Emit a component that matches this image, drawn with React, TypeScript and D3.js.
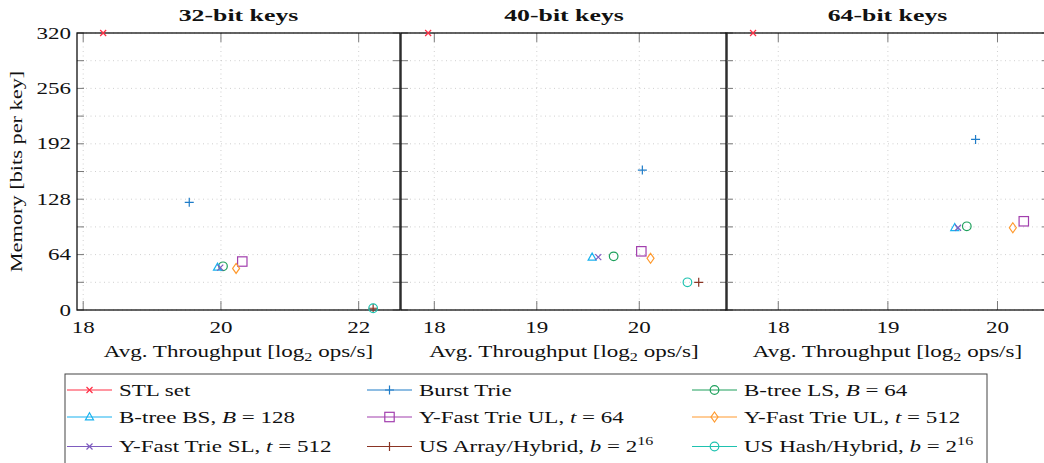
import React, { useEffect, useRef } from 'react';
import * as d3 from 'd3';

// series order follows the legend, row by row
const seriesNames = [
  'STL set', 'Burst Trie', 'B-tree LS', 'B-tree BS', 'Y-Fast Trie UL t64',
  'Y-Fast Trie UL t512', 'Y-Fast Trie SL', 'US Array/Hybrid', 'US Hash/Hybrid',
];
const seriesColors = [
  '#ff2f45', '#1f7cc8', '#1ea05c', '#18b2ef', '#a23fae',
  '#ff9a2e', '#7e5cbf', '#8a3424', '#1fc2b0',
];
const seriesMarkers = ['x', 'plus', 'circle', 'triangle', 'square', 'diamond', 'x', 'plus', 'circle'];

// legend labels: [text, style] pieces, style '' normal, 'i' italic, 's' superscript
const legendLabels: [string, string][][] = [
  [['STL set', '']],
  [['Burst Trie', '']],
  [['B-tree LS, ', ''], ['B', 'i'], [' = 64', '']],
  [['B-tree BS, ', ''], ['B', 'i'], [' = 128', '']],
  [['Y-Fast Trie UL, ', ''], ['t', 'i'], [' = 64', '']],
  [['Y-Fast Trie UL, ', ''], ['t', 'i'], [' = 512', '']],
  [['Y-Fast Trie SL, ', ''], ['t', 'i'], [' = 512', '']],
  [['US Array/Hybrid, ', ''], ['b', 'i'], [' = 2', ''], ['16', 's']],
  [['US Hash/Hybrid, ', ''], ['b', 'i'], [' = 2', ''], ['16', 's']],
];

const panelTitles = ['32-bit keys', '40-bit keys', '64-bit keys'];
const panelXTicks = [[18, 20, 22], [18, 19, 20], [18, 19, 20]];
const yTicks = [0, 32, 64, 96, 128, 160, 192, 224, 256, 288, 320];
const yLabelTicks = [0, 64, 128, 192, 256, 320];
const xLabelParts: [string, string][] = [['Avg. Throughput [log', ''], ['2', 'b'], [' ops/s]', '']];

// avg throughput (log2 ops/s) and memory (bits per key)
const throughput32 = [18.29, 19.54, 20.03, 19.95, 20.31, 20.22, 19.99, 22.21, 22.21];
const memory32 = [320, 124.4, 50.5, 49.3, 56, 48, 49, 2, 2];
const throughput40 = [17.94, 20.03, 19.75, 19.54, 20.02, 20.11, 19.6, 20.58, 20.47];
const memory40 = [320, 161.7, 62, 60.9, 67.8, 59.7, 61, 32, 32];
const throughput64 = [17.77, 19.8, 19.72, 19.61, 20.24, 20.14, 19.64, NaN, NaN];
const memory64 = [320, 197, 96.7, 95, 102.5, 95, 95, NaN, NaN];

const panelX = [throughput32, throughput40, throughput64];
const panelY = [memory32, memory40, memory64];
const panelDomains: [number, number][] = [[17.91, 22.6], [17.675, 20.856], [17.523, 20.47]];
const panelRanges: [number, number][] = [[77, 400], [401, 727], [726, 1049]];

const FONT = '"Liberation Serif", "Times New Roman", serif';
const FS = 17.5;

type G = d3.Selection<SVGGElement, unknown, null, undefined>;

function drawMarker(g: G, type: string, color: string) {
  const sw = 1.2;
  if (type === 'x') {
    g.append('path').attr('d', 'M-3,-3L3,3M-3,3L3,-3').attr('stroke', color).attr('stroke-width', sw).attr('fill', 'none');
  } else if (type === 'plus') {
    g.append('path').attr('d', 'M-4.5,0L4.5,0M0,-4.5L0,4.5').attr('stroke', color).attr('stroke-width', sw).attr('fill', 'none');
  } else if (type === 'circle') {
    g.append('circle').attr('r', 4.3).attr('stroke', color).attr('stroke-width', sw).attr('fill', 'none');
  } else if (type === 'triangle') {
    g.append('path').attr('d', 'M0,-4.2L4,2.8L-4,2.8Z').attr('stroke', color).attr('stroke-width', sw).attr('fill', 'none');
  } else if (type === 'square') {
    g.append('rect').attr('x', -4.7).attr('y', -4.7).attr('width', 9.4).attr('height', 9.4)
      .attr('stroke', color).attr('stroke-width', sw).attr('fill', 'none');
  } else if (type === 'diamond') {
    g.append('path').attr('d', 'M0,-5L3.5,0L0,5L-3.5,0Z').attr('stroke', color).attr('stroke-width', sw).attr('fill', 'none');
  }
}

export default function App() {
  const svgRef = useRef<SVGSVGElement>(null);

  useEffect(() => {
    if (!svgRef.current) return;
    const svg = d3.select(svgRef.current);
    svg.selectAll('*').remove();

    // the reference uses a wide TeX font; stretch Liberation Serif to the same footprint
    const probe = svg.append('text').attr('font-family', FONT).attr('font-size', FS).text('Avg. Throughput [log2 ops/s]');
    const natural = (probe.node() as SVGTextElement).getComputedTextLength() || 210;
    probe.remove();
    const SX = 273 / natural;

    const label = (parent: G, x: number, y: number, anchor: string, parts: [string, string][],
      opts: { bold?: boolean; rotate?: boolean; extra?: number } = {}) => {
      const g = parent.append('g')
        .attr('transform', `translate(${x},${y})${opts.rotate ? ' rotate(-90)' : ''} scale(${SX * (opts.extra || 1)},1)`);
      const t = g.append('text').attr('text-anchor', anchor).attr('font-family', FONT)
        .attr('font-size', FS).attr('fill', '#111');
      if (opts.bold) t.attr('font-weight', 'bold');
      parts.forEach(([s, style], k) => {
        const ts = t.append('tspan').text(s);
        const prev = k > 0 ? parts[k - 1][1] : '';
        if (style === 'i') ts.attr('font-style', 'italic');
        if (style === 's') ts.attr('font-size', FS * 0.7).attr('dy', -7);
        if (style === 'b') ts.attr('font-size', FS * 0.7).attr('dy', 3.5);
        if (style === '' && prev === 'b') ts.attr('dy', -3.5);
      });
      return g;
    };

    const top = 33;
    const bottom = 310;
    const y = d3.scaleLinear().domain([0, 320]).range([bottom, top]);

    panelTitles.forEach((title, p) => {
      const [x0, x1] = panelRanges[p];
      const x = d3.scaleLinear().domain(panelDomains[p]).range(panelRanges[p]);
      const panel = svg.append('g');
      const clipId = `clip${p}`;
      svg.append('clipPath').attr('id', clipId)
        .append('rect').attr('x', x0).attr('y', top - 6).attr('width', x1 - x0).attr('height', bottom - top + 12);

      // grid
      panel.selectAll('.gy').data(yTicks).enter().append('line')
        .attr('x1', x0).attr('x2', x1).attr('y1', d => y(d)).attr('y2', d => y(d))
        .attr('stroke', '#c4c4c4').attr('stroke-width', 0.8).attr('stroke-dasharray', '1,3.5');
      panel.selectAll('.gx').data(panelXTicks[p]).enter().append('line')
        .attr('x1', d => x(d)).attr('x2', d => x(d)).attr('y1', top).attr('y2', bottom)
        .attr('stroke', '#c4c4c4').attr('stroke-width', 0.8).attr('stroke-dasharray', '1,3.5');

      // ticks (inward, mirrored)
      const tickColor = '#7a7a7a';
      yTicks.forEach(t => {
        panel.append('line').attr('x1', x0).attr('x2', x0 + 7).attr('y1', y(t)).attr('y2', y(t))
          .attr('stroke', tickColor).attr('stroke-width', 1);
        panel.append('line').attr('x1', x1 - 7).attr('x2', x1).attr('y1', y(t)).attr('y2', y(t))
          .attr('stroke', tickColor).attr('stroke-width', 1);
      });
      panelXTicks[p].forEach(t => {
        panel.append('line').attr('x1', x(t)).attr('x2', x(t)).attr('y1', bottom).attr('y2', bottom - 9)
          .attr('stroke', tickColor).attr('stroke-width', 1);
        panel.append('line').attr('x1', x(t)).attr('x2', x(t)).attr('y1', top).attr('y2', top + 9)
          .attr('stroke', tickColor).attr('stroke-width', 1);
        label(panel, x(t), bottom + 23, 'middle', [[String(t), '']]);
      });

      // frame
      panel.append('rect').attr('x', x0).attr('y', top).attr('width', x1 - x0).attr('height', bottom - top)
        .attr('fill', 'none').attr('stroke', '#111').attr('stroke-width', 1.3);

      // title and x label
      label(panel, (x0 + x1) / 2, 21, 'middle', [[title, '']], { bold: true, extra: 1.12 });
      label(panel, (x0 + x1) / 2, 357, 'middle', xLabelParts);

      // points
      const pts = panel.append('g').attr('clip-path', `url(#${clipId})`);
      panelX[p].forEach((vx, i) => {
        const vy = panelY[p][i];
        if (!isFinite(vx) || !isFinite(vy)) return;
        const g = pts.append('g').attr('transform', `translate(${x(vx)},${y(vy)})`);
        drawMarker(g, seriesMarkers[i], seriesColors[i]);
      });
    });

    // y axis labels
    const root = svg.append('g');
    yLabelTicks.forEach(t => {
      label(root, 71, y(t) + 5.5, 'end', [[String(t), '']]);
    });
    label(root, 22, (top + bottom) / 2, 'middle', [['Memory [bits per key]', '']], { rotate: true, extra: 0.97 });

    // legend
    const legend = svg.append('g');
    legend.append('rect').attr('x', 65).attr('y', 374).attr('width', 922).attr('height', 100)
      .attr('fill', 'white').attr('stroke', '#444').attr('stroke-width', 1);
    const colX = [67, 367, 692];
    const rowY = [390, 417, 446.5];
    legendLabels.forEach((parts, i) => {
      const lx = colX[i % 3];
      const ly = rowY[Math.floor(i / 3)];
      legend.append('line').attr('x1', lx).attr('x2', lx + 45).attr('y1', ly).attr('y2', ly)
        .attr('stroke', seriesColors[i]).attr('stroke-width', 1.2);
      const g = legend.append('g').attr('transform', `translate(${lx + 22.5},${ly})`);
      drawMarker(g, seriesMarkers[i], seriesColors[i]);
      label(legend, lx + 52, ly + 5.5, 'start', parts).attr('data-series', seriesNames[i]);
    });
  }, []);

  return (
    <svg ref={svgRef} width={1044} height={463}
      style={{ position: 'absolute', left: 0, top: 0, background: 'white' }} />
  );
}
